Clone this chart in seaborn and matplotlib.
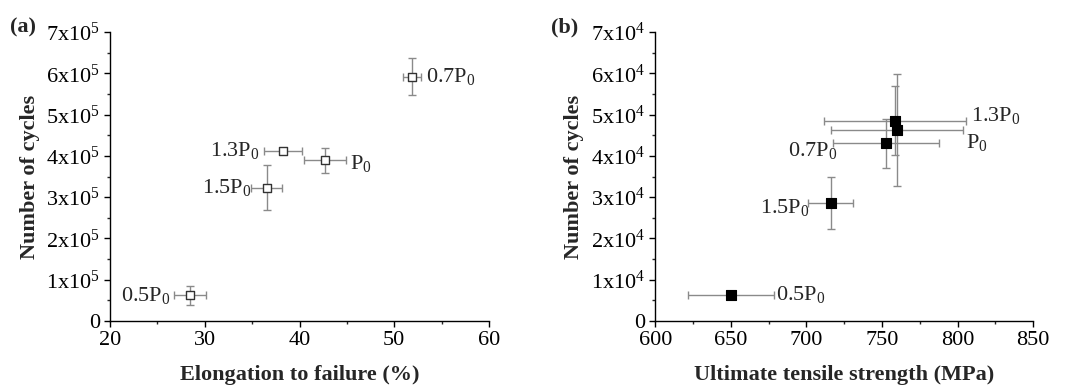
import matplotlib
matplotlib.use("Agg")
import matplotlib.pyplot as plt
import seaborn as sns
import pandas as pd
from matplotlib.ticker import MultipleLocator, FixedLocator, FixedFormatter

sns.set_style("ticks")
plt.rcParams['font.family'] = ['Liberation Serif', 'DejaVu Serif']
plt.rcParams['mathtext.fontset'] = 'custom'
plt.rcParams['mathtext.rm'] = 'Liberation Serif'
plt.rcParams['mathtext.it'] = 'Liberation Serif:italic'
plt.rcParams['mathtext.bf'] = 'Liberation Serif:bold'

# ---- data ----
labels = ['0.5P$_{0}$', '1.5P$_{0}$', '1.3P$_{0}$', 'P$_{0}$', '0.7P$_{0}$']

# panel (a): elongation to failure (%) vs number of cycles
elong = [28.45, 36.55, 38.25, 42.7, 51.9]
elong_err = [1.7, 1.65, 2.05, 2.25, 0.95]
cycles_a = [0.62e5, 3.23e5, 4.12e5, 3.89e5, 5.92e5]
cycles_a_err = [0.23e5, 0.55e5, 0.0, 0.30e5, 0.44e5]

# panel (b): UTS (MPa) vs number of cycles
uts = [650.3, 716.0, 758.5, 759.6, 752.6]
uts_err = [28.4, 15.0, 47.0, 43.7, 34.8]
cycles_b = [0.64e4, 2.86e4, 4.85e4, 4.63e4, 4.30e4]
cycles_b_err = [0.0, 0.63e4, 0.83e4, 1.36e4, 0.60e4]

# label offsets in points (dx, dy, ha)
offs_a = [(-14, 0, 'right'), (-11, 0, 'right'), (-17, 0, 'right'), (18, -2, 'left'), (10, 0, 'left')]
offs_b = [(32, 0, 'left'), (-15, -3, 'right'), (55, 4, 'left'), (50, -9, 'left'), (-35, -5, 'right')]

yticks_a = [0, 1e5, 2e5, 3e5, 4e5, 5e5, 6e5, 7e5]
ytl_a = ['0'] + [f'{i}x10$^{{5}}$' for i in range(1, 8)]
yticks_b = [0, 1e4, 2e4, 3e4, 4e4, 5e4, 6e4, 7e4]
ytl_b = ['0'] + [f'{i}x10$^{{4}}$' for i in range(1, 8)]

df_a = pd.DataFrame({'x': elong, 'y': cycles_a})
df_b = pd.DataFrame({'x': uts, 'y': cycles_b})

fig = plt.figure(figsize=(10.67, 3.85), dpi=100)
ax1 = fig.add_axes([0.1031, 0.1662, 0.3552, 0.7507])
ax2 = fig.add_axes([0.6141, 0.1662, 0.3543, 0.7507])

ecol = '#8a8a8a'
FS = 16

def draw(ax, df, xerr, yerr, offs, filled, xlim, xmaj, xmin, yt, ytl, xlabel, tag, tagx):
    ax.errorbar(df['x'], df['y'], xerr=xerr, yerr=yerr, fmt='none', ecolor=ecol,
                elinewidth=1.0, capsize=3, capthick=1.0, zorder=2)
    if filled:
        sns.scatterplot(data=df, x='x', y='y', ax=ax, marker='s', s=60,
                        color='black', edgecolor='black', linewidth=0.8, zorder=3)
    else:
        sns.scatterplot(data=df, x='x', y='y', ax=ax, marker='s', s=40,
                        facecolor='white', edgecolor='#333333', linewidth=1.0, zorder=3)
    for xi, yi, lab, (dx, dy, ha) in zip(df['x'], df['y'], labels, offs):
        ax.annotate(lab, (xi, yi), xytext=(dx, dy), textcoords='offset points',
                    ha=ha, va='center', fontsize=FS)
    ax.set_xlim(*xlim)
    ax.set_ylim(0, yt[-1])
    ax.xaxis.set_major_locator(MultipleLocator(xmaj))
    ax.xaxis.set_minor_locator(MultipleLocator(xmin))
    ax.yaxis.set_major_locator(FixedLocator(yt))
    ax.yaxis.set_major_formatter(FixedFormatter(ytl))
    ax.yaxis.set_minor_locator(MultipleLocator(yt[1] / 2))
    ax.tick_params(which='major', direction='out', length=4, width=1, labelsize=FS,
                   colors='black', pad=3)
    ax.tick_params(which='minor', direction='out', length=2.5, width=1)
    for s in ['top', 'right']:
        ax.spines[s].set_visible(False)
    for s in ['left', 'bottom']:
        ax.spines[s].set_linewidth(1.0)
        ax.spines[s].set_color('black')
    ax.set_xlabel(xlabel, fontsize=FS, fontweight='bold', labelpad=11)
    ax.set_ylabel('Number of cycles', fontsize=FS, fontweight='bold', labelpad=5)
    ax.text(tagx, 1.014, tag, transform=ax.transAxes, fontsize=FS, fontweight='bold',
            ha='left', va='center')

draw(ax1, df_a, elong_err, cycles_a_err, offs_a, False, (20, 60), 10, 5,
     yticks_a, ytl_a, 'Elongation to failure (%)', '(a)', -0.264)
draw(ax2, df_b, uts_err, cycles_b_err, offs_b, True, (600, 850), 50, 25,
     yticks_b, ytl_b, 'Ultimate tensile strength (MPa)', '(b)', -0.275)

fig.savefig('out.png', dpi=100)
